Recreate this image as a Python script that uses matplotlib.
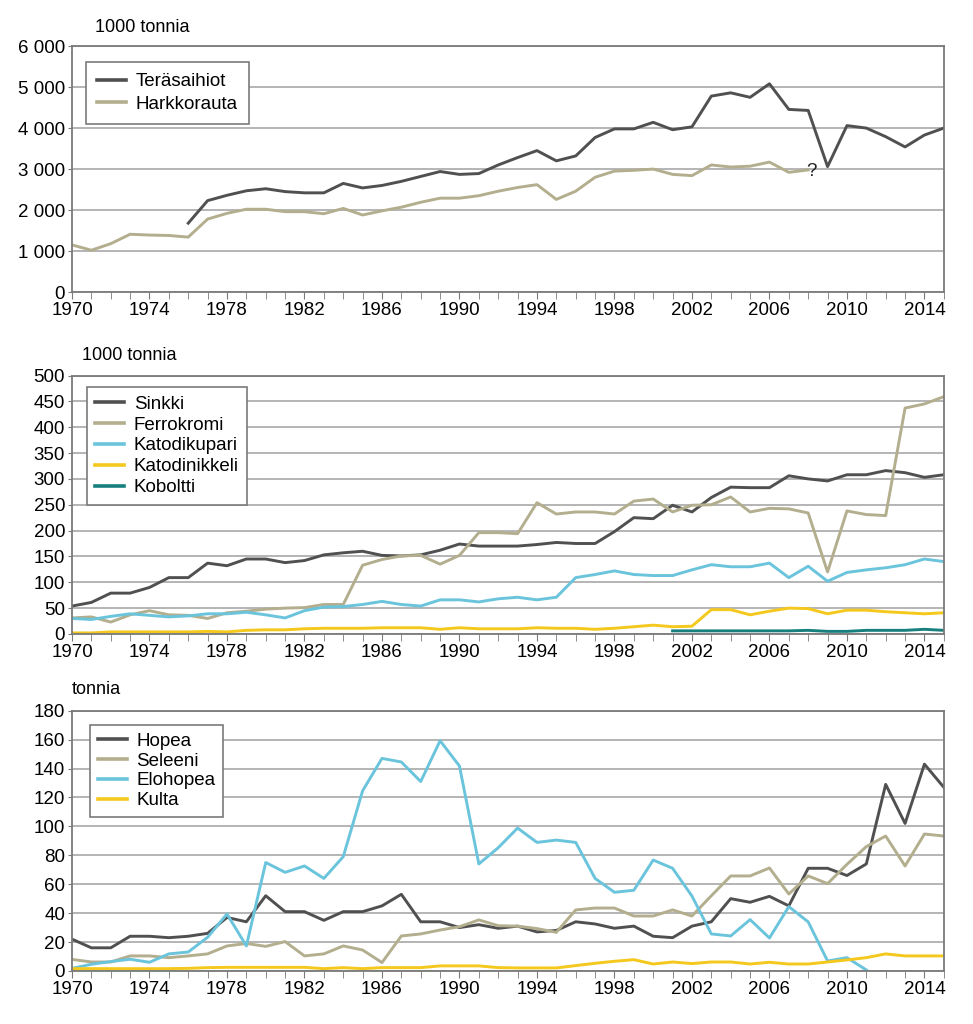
import matplotlib
matplotlib.use("Agg")
import matplotlib.pyplot as plt
import numpy as np

plt.rcParams['font.family'] = ['Liberation Sans', 'DejaVu Sans']

# ---------------- Data ----------------
years = list(range(1970, 2016))

# Panel 1 (1000 tonnia)
teras_years = list(range(1976, 2016))
terasaihiot = [1680, 2230, 2360, 2470, 2520, 2450, 2420, 2420, 2650, 2540,
               2600, 2700, 2820, 2940, 2870, 2890, 3100, 3280, 3450, 3200,
               3320, 3770, 3980, 3980, 4140, 3960, 4030, 4780, 4860, 4750,
               5080, 4455, 4430, 3060, 4060, 4000, 3790, 3540, 3830, 4000]
hark_years = list(range(1970, 2009))
harkkorauta = [1150, 1020, 1180, 1410, 1390, 1380, 1340, 1780, 1920, 2020,
               2020, 1960, 1960, 1910, 2040, 1880, 1980, 2070, 2190, 2290,
               2290, 2350, 2460, 2550, 2620, 2260, 2460, 2800, 2950, 2970,
               3000, 2870, 2840, 3100, 3050, 3070, 3170, 2920, 2980]

# Panel 2 (1000 tonnia)
sinkki = [54, 61, 79, 79, 90, 109, 109, 137, 132, 145,
          145, 138, 142, 153, 157, 160, 152, 151, 153, 162,
          174, 170, 170, 170, 173, 177, 175, 175, 198, 225,
          223, 249, 236, 264, 284, 283, 283, 306, 300, 296,
          308, 308, 316, 312, 303, 308]
ferrokromi = [31, 33, 23, 37, 45, 37, 36, 30, 41, 44,
              48, 50, 51, 57, 57, 133, 144, 151, 152, 135,
              152, 196, 196, 194, 254, 232, 236, 236, 232, 257,
              261, 236, 249, 250, 265, 236, 243, 242, 234, 120,
              238, 231, 229, 437, 445, 459]
katodikupari = [30, 28, 34, 39, 36, 33, 35, 39, 39, 42,
                37, 31, 45, 52, 53, 57, 63, 57, 54, 66,
                66, 62, 68, 71, 66, 71, 109, 115, 122, 115,
                113, 113, 124, 134, 130, 130, 137, 109, 131, 102,
                119, 124, 128, 134, 145, 140]
katodinikkeli = [2, 2, 4, 4, 4, 4, 4, 5, 4, 7,
                 8, 8, 10, 11, 11, 11, 12, 12, 12, 9,
                 12, 10, 10, 10, 12, 11, 11, 9, 11, 14,
                 17, 14, 15, 47, 47, 37, 44, 50, 49, 39,
                 46, 46, 43, 41, 39, 41]
kob_years = list(range(2001, 2016))
koboltti = [6, 6, 6, 6, 6, 6, 6, 7, 5, 5, 7, 7, 7, 9, 7]

# Panel 3 (tonnia)
hopea = [22, 16, 16, 24, 24, 23, 24, 26, 37, 34,
         52, 41, 41, 35, 41, 41, 45, 53, 34, 34,
         30, 32, 29.5, 31, 27, 28, 34, 32.5, 29.5, 31,
         24, 23, 31, 34, 50, 47.5, 51.6, 45, 71, 71,
         66, 74, 129, 102, 143, 127]
seleeni = [8, 6.2, 6.2, 10.4, 10.4, 9.2, 10.4, 11.8, 17.3, 19,
           17, 20.3, 10.4, 11.8, 17.3, 14.5, 5.8, 24.2, 25.6, 28.3,
           30.6, 35.3, 31.3, 31, 29.3, 26.7, 42.2, 43.5, 43.5, 38,
           38, 42.2, 38, 52, 65.7, 65.7, 71.2, 53.2, 65.7, 60.4,
           73.7, 86, 93.3, 72.6, 94.7, 93.3]
elo_years = list(range(1970, 2012))
elohopea = [1.8, 4.6, 6.5, 8.1, 6, 11.8, 13.1, 23.3, 39.4, 17.3,
            75, 68.2, 72.6, 64, 79, 124.6, 147, 144.5, 131, 159.2,
            141.7, 74, 85.2, 98.8, 88.9, 90.5, 88.9, 64, 54.4, 55.8,
            76.7, 71, 51.8, 25.6, 24.2, 35.5, 22.8, 44.5, 33.9, 6.9,
            9.2, 0.7]
kulta = [1.6, 1.6, 1.6, 1.6, 1.6, 1.6, 1.8, 2.3, 2.5, 2.5,
         2.5, 2.5, 2.5, 1.6, 2.3, 1.6, 2.3, 2.3, 2.3, 3.5,
         3.5, 3.5, 2.3, 2.1, 2.1, 2.1, 3.7, 5.3, 6.7, 7.8,
         4.8, 6.2, 5.1, 6.2, 6.2, 4.8, 6, 4.8, 4.8, 6.2,
         7.6, 9.2, 11.8, 10.4, 10.4, 10.4]

C_DARK = '#505050'
C_KHAKI = '#b3ae8e'
C_BLUE = '#6ac4dc'
C_YELLOW = '#f4c81c'
C_TEAL = '#17807f'
LW = 2.1
FS = 13.5

fig = plt.figure(figsize=(9.73, 10.24), dpi=100)
L, W = 0.074, 0.896
ax1 = fig.add_axes([L, 0.7148, W, 0.2402])
ax2 = fig.add_axes([L, 0.3809, W, 0.2524])
ax3 = fig.add_axes([L, 0.0518, W, 0.2542])


def style(ax, ymax, ystep, fmt):
    ax.set_xlim(1970, 2015)
    ax.set_ylim(0, ymax)
    ax.set_xticks(range(1970, 2016, 4))
    ax.set_xticks(range(1970, 2016, 1), minor=True)
    yt = np.arange(0, ymax + ystep / 2, ystep)
    ax.set_yticks(yt)
    ax.set_yticklabels([fmt(v) for v in yt])
    ax.grid(axis='y', color='#a0a0a0', linewidth=1.1)
    ax.set_axisbelow(True)
    for s in ax.spines.values():
        s.set_color('#7a7a7a')
        s.set_linewidth(1.3)
    ax.tick_params(axis='x', which='both', direction='out', length=5,
                   color='#7a7a7a', labelsize=FS, pad=2)
    ax.tick_params(axis='y', direction='out', length=3, color='#7a7a7a',
                   labelsize=FS, pad=2)


def thousands(v):
    return '{:,}'.format(int(v)).replace(',', ' ')


style(ax1, 6000, 1000, thousands)
style(ax2, 500, 50, lambda v: str(int(v)))
style(ax3, 180, 20, lambda v: str(int(v)))

ax1.plot(teras_years, terasaihiot, color=C_DARK, lw=LW, label='Teräsaihiot')
ax1.plot(hark_years, harkkorauta, color=C_KHAKI, lw=LW, label='Harkkorauta')
ax1.text(hark_years[-1] - 0.1, harkkorauta[-1] - 30, '?', fontsize=FS,
         ha='left', va='center', color='#222222')

ax2.plot(years, sinkki, color=C_DARK, lw=LW, label='Sinkki')
ax2.plot(years, ferrokromi, color=C_KHAKI, lw=LW, label='Ferrokromi')
ax2.plot(years, katodikupari, color=C_BLUE, lw=LW, label='Katodikupari')
ax2.plot(years, katodinikkeli, color=C_YELLOW, lw=LW, label='Katodinikkeli')
ax2.plot(kob_years, koboltti, color=C_TEAL, lw=LW, label='Koboltti')

ax3.plot(years, hopea, color=C_DARK, lw=LW, label='Hopea')
ax3.plot(years, seleeni, color=C_KHAKI, lw=LW, label='Seleeni')
ax3.plot(elo_years, elohopea, color=C_BLUE, lw=LW, label='Elohopea')
ax3.plot(years, kulta, color=C_YELLOW, lw=LW, label='Kulta')

for ax, pos, bp, ls in [(ax1, (0.016, 0.935), 0.6, 0.28),
                        (ax2, (0.017, 0.955), 0.45, 0.2),
                        (ax3, (0.021, 0.945), 0.4, 0.15)]:
    leg = ax.legend(loc='upper left', bbox_to_anchor=pos, fontsize=FS,
                    frameon=True, fancybox=False, handlelength=1.55,
                    handletextpad=0.5, borderpad=bp, labelspacing=ls,
                    borderaxespad=0)
    fr = leg.get_frame()
    fr.set_edgecolor('#7a7a7a')
    fr.set_linewidth(1.2)
    fr.set_alpha(1)
    for ln in leg.get_lines():
        ln.set_linewidth(2.6)

fig.text(95 / 973, 1 - 27 / 1024, '1000 tonnia', fontsize=13, va='center', ha='left')
fig.text(82 / 973, 1 - 355 / 1024, '1000 tonnia', fontsize=13, va='center', ha='left')
fig.text(72 / 973, 1 - 690 / 1024, 'tonnia', fontsize=13, va='center', ha='left')

fig.savefig('out.png', dpi=100, facecolor='white')
